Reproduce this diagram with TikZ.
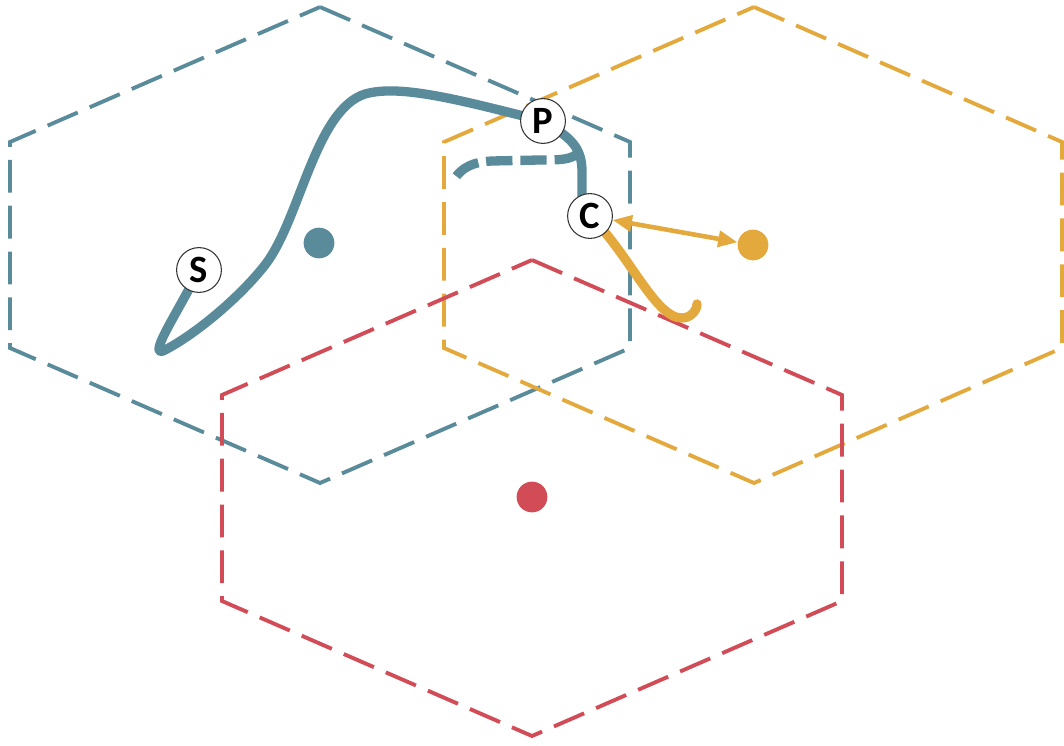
\documentclass[tikz,border=0pt]{standalone}
\usepackage{fontspec}
\setmainfont{Carlito}
\usepackage{tikz}
\usetikzlibrary{arrows.meta}

\definecolor{cellblue}{RGB}{90,139,155}
\definecolor{cellyellow}{RGB}{228,169,61}
\definecolor{cellred}{RGB}{209,76,86}

\begin{document}
\begin{tikzpicture}[x=0.02cm, y=-0.02cm,
    hexline/.style={line width=2.2pt, dash pattern=on 18.7pt off 7.4pt},
    track/.style={line width=5.3pt, line cap=round, line join=round},
    centre/.style={circle, minimum size=17.5pt, inner sep=0pt},
    pointlabel/.style={circle, draw=black!80, line width=0.6pt, fill=white, minimum size=25.5pt, inner sep=0pt, font=\fontsize{22}{26}\selectfont\bfseries}]
  \useasboundingbox (0,0) rectangle (1064,746);

  % cells
  \draw[hexline, cellblue] (320,7) -- (630,142) -- (630,348) -- (320,483) -- (10,348) -- (10,142) -- cycle; % blue cell
  \draw[hexline, cellyellow] (754,7) -- (1062,142) -- (1062,348) -- (754,483) -- (444,348) -- (444,142) -- cycle; % yellow cell
  \draw[hexline, cellred] (532,260) -- (842,395) -- (842,601) -- (532,736) -- (222,601) -- (222,395) -- cycle; % red cell

  % cell centres
  \node [centre, fill=cellblue] (bdot) at (319,243) {};
  \node [centre, fill=cellyellow] (ydot) at (753,245) {};
  \node [centre, fill=cellred] (rdot) at (532,497) {};

  \coordinate (s) at (199,270);
  \coordinate (p) at (543,121);
  \coordinate (c) at (590,216);
  \coordinate (cin) at (582,205);
  \coordinate (fork) at (579,152);
  \coordinate (lost) at (455,178);
  \coordinate (yend) at (697,304);

  % track in blue cell
  \draw [track, cellblue] (s) .. controls (178,312) and (148,356) .. (163,351)
    .. controls (195,335) and (240,297) .. (265,265)
    .. controls (300,220) and (315,110) .. (365,94)
    .. controls (400,84) and (460,100) .. (p);
  \draw [track, cellblue] (p) .. controls (572,138) and (582,148) .. (582,172) -- (cin);
  \draw [track, cellblue, line cap=butt, dash pattern=on 15pt off 4.5pt] (fork) .. controls (572,160) and (560,160) .. (540,160)
    -- (492,161) .. controls (472,162) and (462,168) .. (lost);

  % track in yellow cell
  \draw [track, cellyellow] (c) .. controls (630,255) and (655,318) .. (682,318)
    .. controls (690,318) and (697,311) .. (yend);

  \node [pointlabel] (S) at (s) {S};
  \node [pointlabel] (P) at (p) {P};
  \node [pointlabel] (C) at (c) {C};

  \draw [cellyellow, line width=2.6pt, {Triangle[length=11pt,width=9pt]}-{Triangle[length=11pt,width=9pt]}] (C) -- (ydot);
\end{tikzpicture}
\end{document}
